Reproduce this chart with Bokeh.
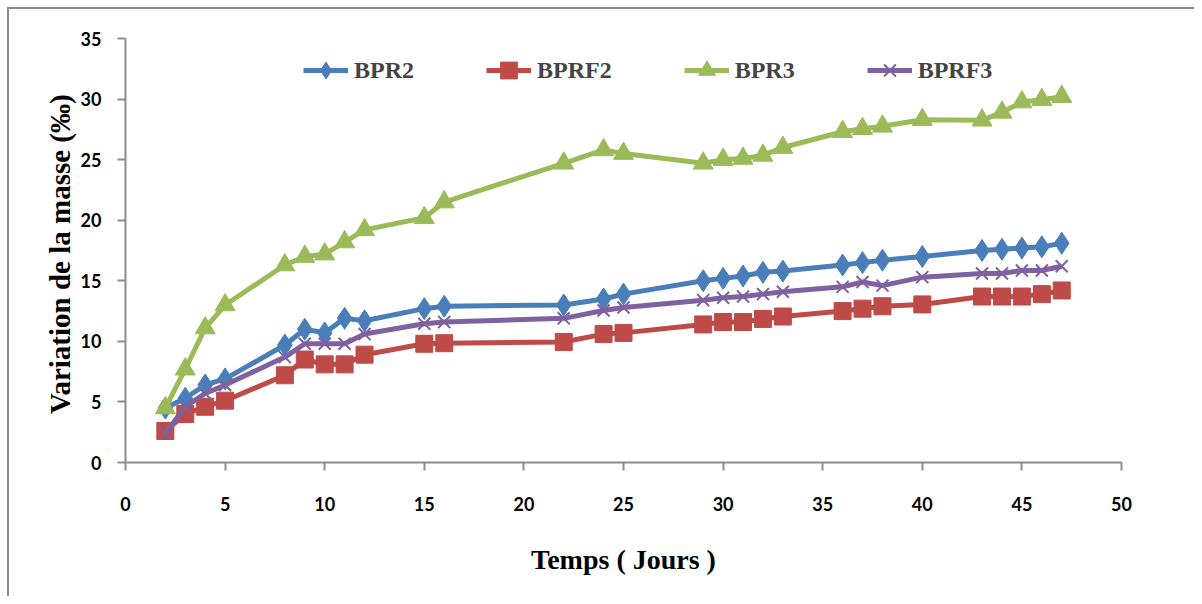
from bokeh.plotting import figure
from bokeh.models import Range1d, FixedTicker, Legend, LegendItem
from bokeh.embed import file_html
from bokeh.resources import INLINE

days = [2, 3, 4, 5, 8, 9, 10, 11, 12, 15, 16, 22, 24, 25, 29, 30, 31, 32, 33, 36, 37, 38, 40, 43, 44, 45, 46, 47]
bpr2 = [4.5, 5.3, 6.4, 6.9, 9.7, 11.0, 10.7, 11.9, 11.7, 12.7, 12.9, 13.0, 13.5, 13.9, 15.0, 15.2, 15.4, 15.7, 15.8, 16.3, 16.5, 16.7, 17.0, 17.5, 17.6, 17.7, 17.8, 18.1]
bprf2 = [2.6, 4.0, 4.6, 5.1, 7.2, 8.5, 8.1, 8.1, 8.9, 9.8, 9.85, 9.95, 10.6, 10.7, 11.4, 11.6, 11.6, 11.85, 12.05, 12.5, 12.7, 12.9, 13.05, 13.7, 13.7, 13.7, 13.9, 14.2]
bpr3 = [4.5, 7.7, 11.1, 13.0, 16.3, 17.0, 17.2, 18.2, 19.2, 20.2, 21.5, 24.7, 25.8, 25.5, 24.7, 25.0, 25.1, 25.35, 26.0, 27.3, 27.55, 27.75, 28.3, 28.25, 28.9, 29.75, 29.95, 30.2]
bprf3 = [2.4, 4.6, 5.7, 6.4, 8.7, 9.8, 9.8, 9.8, 10.6, 11.45, 11.6, 11.9, 12.55, 12.8, 13.4, 13.6, 13.7, 13.9, 14.1, 14.5, 14.9, 14.6, 15.3, 15.6, 15.6, 15.85, 15.85, 16.2]

series_names = ["BPR2", "BPRF2", "BPR3", "BPRF3"]
x_ticks = [0, 5, 10, 15, 20, 25, 30, 35, 40, 45, 50]
y_ticks = [0, 5, 10, 15, 20, 25, 30, 35]

p = figure(width=1194, height=596, output_backend="svg", toolbar_location=None,
           x_range=Range1d(0, 50), y_range=Range1d(0, 35),
           min_border_left=125, min_border_top=38, min_border_right=73, min_border_bottom=134)
p.outline_line_color = None
p.xgrid.visible = False
p.ygrid.visible = False
p.border_fill_color = None
p.background_fill_color = None
p.styles = {
    "background": "linear-gradient(#8c8c8c, #8c8c8c) no-repeat 7px 7px / 2px 100%, "
                  "linear-gradient(#8c8c8c, #8c8c8c) no-repeat 7px 7px / 100% 2px, white",
}

for ax in (p.xaxis, p.yaxis):
    ax.axis_line_color = "#8c8c8c"
    ax.axis_line_width = 2
    ax.major_tick_line_color = "#8c8c8c"
    ax.major_tick_line_width = 2
    ax.major_tick_out = 8
    ax.major_tick_in = 0
    ax.minor_tick_line_color = None
    ax.major_label_text_font = "Lato"
    ax.major_label_text_font_style = "bold"
    ax.major_label_text_font_size = "18px"
    ax.major_label_text_color = "black"
    ax.axis_label_text_font = "Liberation Serif"
    ax.axis_label_text_font_style = "bold"
    ax.axis_label_text_color = "black"

p.xaxis.ticker = FixedTicker(ticks=x_ticks)
p.yaxis.ticker = FixedTicker(ticks=y_ticks)
p.xaxis.major_label_standoff = 26
p.yaxis.major_label_standoff = 16
p.xaxis.axis_label = "Temps ( Jours )"
p.yaxis.axis_label = "Variation de la  masse (‰)"
p.xaxis.axis_label_text_font_size = "28px"
p.yaxis.axis_label_text_font_size = "29px"
p.xaxis.axis_label_standoff = 30
p.yaxis.axis_label_standoff = 2

blue, red, green, purple = "#4A7EBB", "#BE4B48", "#9BBB59", "#7F60A0"

r1l = p.line(days, bpr2, line_color=blue, line_width=5)
r1m = p.scatter(days, bpr2, marker="diamond", size=22, fill_color=blue, line_color=blue)
r2l = p.line(days, bprf2, line_color=red, line_width=5)
r2m = p.scatter(days, bprf2, marker="square", size=17, fill_color=red, line_color=red)
r3l = p.line(days, bpr3, line_color=green, line_width=5)
r3m = p.scatter(days, bpr3, marker="triangle", size=20, fill_color=green, line_color=green)
r4l = p.line(days, bprf3, line_color=purple, line_width=5)
r4m = p.scatter(days, bprf3, marker="x", size=17, fill_color=None, line_color=purple, line_width=2)

legend = Legend(items=[
    LegendItem(label=series_names[0], renderers=[r1l, r1m]),
    LegendItem(label=series_names[1], renderers=[r2l, r2m]),
    LegendItem(label=series_names[2], renderers=[r3l, r3m]),
    LegendItem(label=series_names[3], renderers=[r4l, r4m]),
], orientation="horizontal", location=(178, 371))
legend.label_text_font = "Liberation Serif"
legend.label_text_font_style = "bold"
legend.label_text_font_size = "24px"
legend.glyph_width = 45
legend.glyph_height = 42
legend.label_standoff = 6
legend.spacing = 72
legend.padding = 0
legend.margin = 0
legend.border_line_color = None
legend.background_fill_alpha = 0
p.add_layout(legend, "center")

open("out.html", "w").write(file_html(p, INLINE))
